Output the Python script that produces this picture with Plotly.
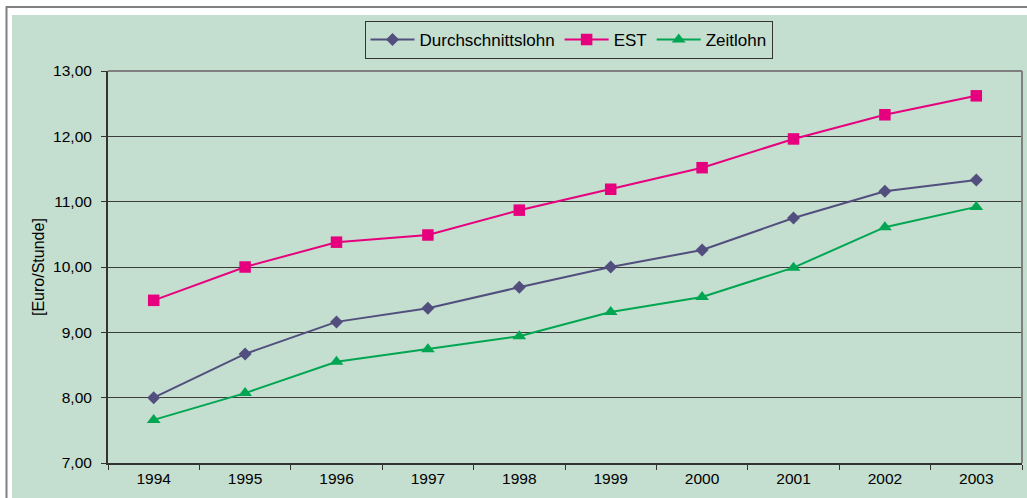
import plotly.graph_objects as go

years = ["1994", "1995", "1996", "1997", "1998", "1999", "2000", "2001", "2002", "2003"]
durchschnittslohn = [8.00, 8.67, 9.16, 9.37, 9.69, 10.00, 10.26, 10.75, 11.16, 11.33]
est = [9.49, 10.00, 10.38, 10.49, 10.87, 11.19, 11.52, 11.96, 12.33, 12.62]
zeitlohn = [7.66, 8.07, 8.55, 8.74, 8.94, 9.31, 9.54, 9.99, 10.61, 10.92]

GREEN_BG = "#C4DECF"
FONT = "Liberation Sans, Arial, sans-serif"

fig = go.Figure()
fig.add_trace(go.Scatter(x=years, y=durchschnittslohn, name="Durchschnittslohn", mode="lines+markers",
                         line=dict(color="#524E7E", width=2),
                         marker=dict(symbol="diamond", size=10, color="#524E7E")))
fig.add_trace(go.Scatter(x=years, y=est, name="EST", mode="lines+markers",
                         line=dict(color="#E6007E", width=2),
                         marker=dict(symbol="square", size=11.5, color="#E6007E")))
fig.add_trace(go.Scatter(x=years, y=zeitlohn, name="Zeitlohn", mode="lines+markers",
                         line=dict(color="#00A651", width=2),
                         marker=dict(symbol="triangle-up", size=12, color="#00A651")))

L, R, T, B = 108, 5, 71, 35
W, H = 1027, 498
pw, ph = W - L - R, H - T - B

def px(x):
    return (x - L) / pw

def py(y):
    return (H - B - y) / ph

shapes = [
    dict(type="rect", xref="paper", yref="paper", x0=px(6.5), x1=px(1040), y0=py(7), y1=py(520),
         line=dict(color="#808080", width=2), fillcolor="white", layer="below"),
    dict(type="rect", xref="paper", yref="paper", x0=px(12), x1=px(1040), y0=py(15), y1=py(520),
         line=dict(width=0), fillcolor=GREEN_BG, layer="below"),
    dict(type="line", xref="paper", yref="paper", x0=0, x1=1, y0=1, y1=1,
         line=dict(color="#808080", width=2)),
    dict(type="line", xref="paper", yref="paper", x0=1, x1=1, y0=0, y1=1,
         line=dict(color="#808080", width=2)),
]

annotations = [
    dict(text="[Euro/Stunde]", xref="paper", yref="paper", x=px(38), y=py(267),
         xanchor="center", yanchor="middle", textangle=-90, showarrow=False,
         font=dict(family=FONT, size=16, color="black")),
]

fig.update_layout(
    width=W, height=H,
    margin=dict(l=L, r=R, t=T, b=B, autoexpand=False),
    paper_bgcolor="white",
    plot_bgcolor=GREEN_BG,
    separators=",.",
    font=dict(family=FONT, size=15.5, color="black"),
    showlegend=True,
    legend=dict(orientation="h", x=px(568.5), xanchor="center", y=py(21), yanchor="top",
                bgcolor=GREEN_BG, bordercolor="#333333", borderwidth=1,
                font=dict(family=FONT, size=17, color="black"),
                itemwidth=44, tracegroupgap=0),
    shapes=shapes,
    annotations=annotations,
    xaxis=dict(type="category", range=[-0.5, 9.5], tickson="boundaries", ticks="outside", ticklen=5,
               tickcolor="#333333", showline=True, linecolor="#333333", linewidth=2,
               showgrid=False, automargin=False,
               tickfont=dict(family=FONT, size=15.5, color="black")),
    yaxis=dict(range=[7, 13], dtick=1, tickformat=".2f", ticks="outside", ticklen=5,
               tickcolor="#333333", showline=True, linecolor="#333333", linewidth=2,
               showgrid=True, gridcolor="#3C3C3C", gridwidth=1, zeroline=False,
               automargin=False, ticklabelstandoff=6,
               tickfont=dict(family=FONT, size=15.5, color="black")),
)

fig.write_html("out.html", config={"displayModeBar": False},
               post_script="document.body.style.margin='0';")
